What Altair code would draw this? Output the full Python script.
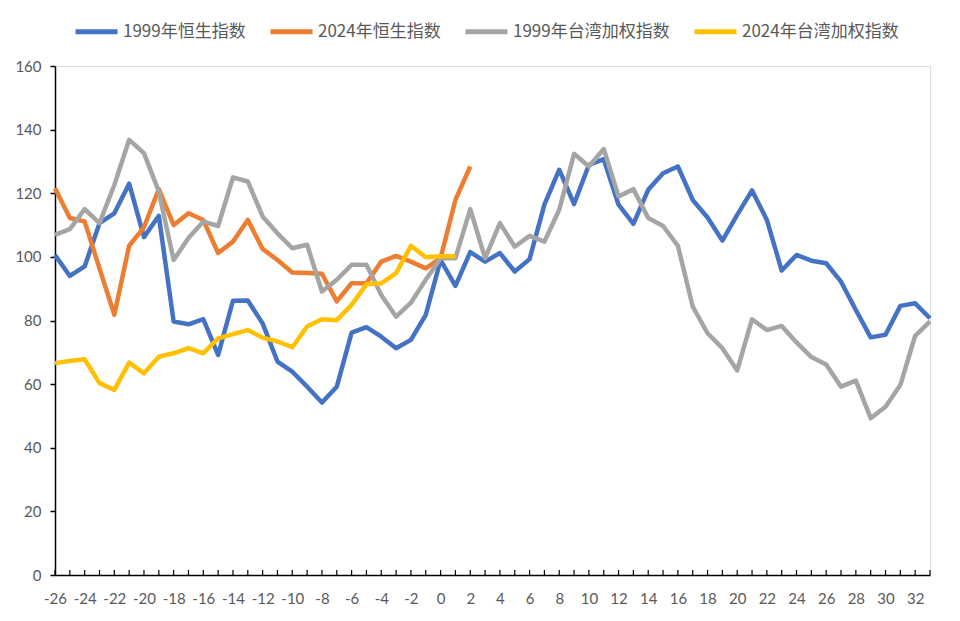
import altair as alt
import pandas as pd

x_vals = list(range(-26, 34))
x_labels = list(range(-26, 33, 2))

series_names = ["1999年恒生指数", "2024年恒生指数", "1999年台湾加权指数", "2024年台湾加权指数"]
series_colors = ["#4472C4", "#ED7D31", "#A5A5A5", "#FFC000"]

hsi_1999 = [100.6, 94.0, 97.0, 110.6, 113.7, 123.0, 106.2, 112.9, 79.7, 78.8, 80.4, 69.2, 86.2, 86.3, 79.1,
            67.1, 63.9, 59.2, 54.2, 59.2, 76.2, 77.9, 74.9, 71.3, 73.9, 81.8, 99.0, 90.9, 101.5,
            98.5, 101.2, 95.4, 99.3, 116.4, 127.4, 116.6, 128.9, 130.7, 116.4, 110.4, 121.1, 126.3, 128.4,
            117.9, 112.4, 105.1, 113.2, 120.9, 111.6, 95.7, 100.6, 98.8, 98.0, 92.2, 83.3, 74.7, 75.5, 84.6, 85.4, 80.7]

hsi_2024 = [121.6, 112.2, 111.1, 96.4, 81.8, 103.5, 109.3, 121.3, 110.0, 113.7, 111.6, 101.2, 104.8, 111.6, 102.5,
            99.0, 95.1, 94.9, 94.7, 86.0, 91.7, 91.7, 98.5, 100.3, 98.5, 96.4, 99.6, 117.9, 128.4]

twse_1999 = [106.9, 108.7, 115.0, 110.6, 122.6, 136.8, 132.6, 120.5, 99.0, 105.9, 111.1, 109.7, 125.0, 123.7, 112.7,
             107.4, 102.7, 103.8, 89.1, 92.8, 97.5, 97.5, 88.0, 81.2, 85.6, 92.8, 99.6, 99.6, 115.0,
             99.6, 110.6, 103.2, 106.6, 104.8, 114.8, 132.4, 128.4, 133.9, 119.0, 121.3, 112.2, 109.7, 103.5,
             84.4, 76.0, 71.3, 64.3, 80.4, 77.0, 78.3, 73.1, 68.5, 66.2, 59.2, 61.1, 49.3, 52.9, 59.7, 75.2, 79.7]

twse_2024 = [66.6, 67.3, 67.8, 60.3, 58.2, 66.8, 63.4, 68.6, 69.7, 71.3, 69.7, 74.4, 75.7, 77.0, 74.6,
             73.4, 71.6, 78.1, 80.4, 80.1, 84.9, 91.4, 91.7, 94.9, 103.5, 99.9, 100.2, 100.2]

y_ticks = [0, 20, 40, 60, 80, 100, 120, 140, 160]

rows = []
for order, (name, vals) in enumerate(zip(series_names, [hsi_1999, hsi_2024, twse_1999, twse_2024])):
    for x, v in zip(x_vals, vals):
        rows.append({"x": x, "v": v, "s": name, "o": order})
df = pd.DataFrame(rows)
ticks_df = pd.DataFrame({"x": x_vals})

W, H = 875, 509
num_font = "Lato"
lab_color = "#595959"

x_axis = alt.Axis(values=x_labels, labelExpr="datum.value + ''",
                  ticks=False, grid=False, domainColor="#000000", domainWidth=1.5,
                  labelFontSize=15, labelColor=lab_color, labelFont=num_font,
                  labelPadding=16, labelOverlap=False, labelFlush=False, labelSeparation=0,
                  title=None)
x_scale = alt.Scale(domain=[-26, 33], nice=False, zero=False)
x_enc = alt.X("x:Q", scale=x_scale, axis=x_axis)
y_enc = alt.Y("v:Q", scale=alt.Scale(domain=[0, 160], nice=False),
              axis=alt.Axis(values=y_ticks, grid=False, domainColor="#000000", domainWidth=1.5,
                            tickColor="#000000", tickSize=5, tickWidth=1.5, labelPadding=9,
                            labelFontSize=15, labelColor=lab_color, labelFont=num_font, title=None))
color_enc = alt.Color("s:N", scale=alt.Scale(domain=series_names, range=series_colors),
                      legend=alt.Legend(title=None, orient="none", direction="horizontal",
                                        legendX=18, legendY=-58,
                                        symbolType="stroke", symbolSize=1764, symbolStrokeWidth=5,
                                        labelFontSize=17, labelColor=lab_color,
                                        labelFont="Noto Sans CJK SC", columnPadding=14,
                                        labelOffset=3))

layers = []
for name in series_names:
    layers.append(
        alt.Chart(df).transform_filter(alt.datum.s == name)
        .mark_line(strokeWidth=4.5, strokeJoin="round")
        .encode(x=x_enc, y=y_enc, color=color_enc)
    )

tick_layer = alt.Chart(ticks_df).mark_rule(color="#000000", strokeWidth=1.2).encode(
    x=x_enc, y=alt.value(H), y2=alt.value(H - 5))

chart = alt.layer(tick_layer, *layers).properties(
    width=W, height=H, padding={"left": 6, "top": 0, "right": 10, "bottom": 5}
).configure_view(stroke=None).configure(background="white")

chart.save("out.html", embed_options={"renderer": "svg", "actions": False})
